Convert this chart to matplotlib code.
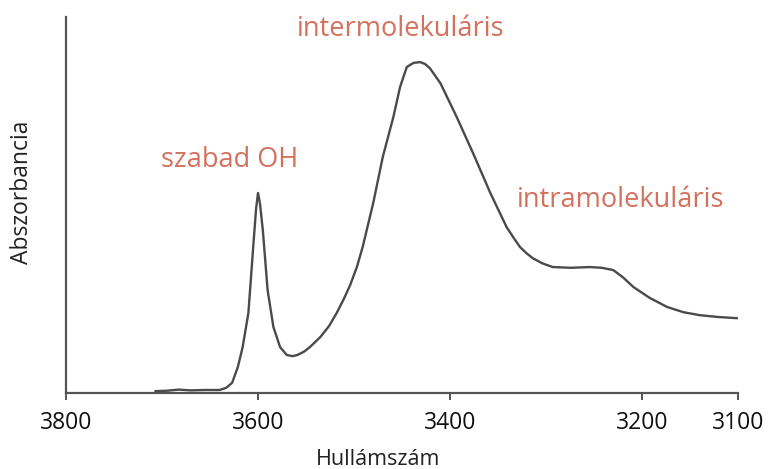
import matplotlib
matplotlib.use("Agg")
import matplotlib.pyplot as plt

# Spectrum: wavenumber (cm^-1) and relative absorbance (0-100)
wavenumber = [3707, 3695, 3683, 3670, 3655, 3640, 3633, 3627, 3621, 3616, 3610, 3605,
              3602, 3600, 3598, 3595, 3590, 3584, 3577, 3570, 3564, 3559, 3552, 3546,
              3535, 3526, 3518, 3511, 3504, 3497, 3491, 3480, 3470, 3459, 3452, 3445,
              3438, 3431, 3426, 3421, 3410, 3393, 3376, 3358, 3341, 3333, 3327, 3320,
              3314, 3304, 3293, 3274, 3254, 3242, 3230, 3220, 3209, 3192, 3174, 3157,
              3140, 3120, 3101]
absorbance = [0.5, 0.6, 0.9, 0.7, 0.8, 0.8, 1.4, 2.7, 6.9, 12.2, 21.3, 38.8,
              49.0, 53.2, 50.5, 43.4, 27.4, 17.6, 12.2, 10.1, 9.8, 10.1, 11.0, 12.2,
              14.9, 17.8, 21.3, 24.8, 28.7, 33.5, 38.8, 50.5, 62.8, 73.4, 81.4, 86.7,
              87.8, 88.0, 87.5, 86.4, 82.4, 73.4, 63.8, 53.2, 44.1, 41.0, 38.8, 37.1,
              35.9, 34.5, 33.5, 33.3, 33.5, 33.3, 32.7, 30.8, 28.2, 25.3, 22.9, 21.5,
              20.7, 20.2, 19.9]

x_ticks = [3800, 3600, 3400, 3200, 3100]
annotations = ["szabad OH", "intermolekuláris", "intramolekuláris"]
annot_x = [3630, 3451, 3222]
annot_y = [62.0, 96.8, 51.3]

FONT = ["Open Sans", "DejaVu Sans"]
TEXT_COLOR = "#d4705c"
LINE_COLOR = "#4a4a4a"

fig = plt.figure(figsize=(7.76, 4.69), dpi=100)
ax = fig.add_axes([66 / 776, 1 - 393 / 469, (738 - 66) / 776, (393 - 17) / 469])

ax.plot(wavenumber, absorbance, color=LINE_COLOR, lw=1.7,
        solid_joinstyle="round", solid_capstyle="round")

ax.set_xlim(3800, 3100)
ax.set_ylim(0, 100)

for side in ["top", "right"]:
    ax.spines[side].set_visible(False)
for side in ["left", "bottom"]:
    ax.spines[side].set_color("#555555")
    ax.spines[side].set_linewidth(1.6)

ax.set_yticks([])
ax.set_xticks(x_ticks)
ax.set_xticklabels([str(t) for t in x_ticks], fontfamily=FONT, fontsize=16.5, color="#111111")
ax.tick_params(axis="x", direction="out", length=5, width=1.4, color="#555555", pad=8)

ax.set_xlabel("Hullámszám", fontfamily=FONT, fontsize=15.5, color="#222222")
ax.xaxis.set_label_coords((378 - 66) / 672, -(459 - 393) / 376)
ax.xaxis.label.set_va("center")
ax.set_ylabel("Abszorbancia", fontfamily=FONT, fontsize=16.5, color="#222222")
ax.yaxis.set_label_coords(-(66 - 22) / 672, (393 - 192) / 376)
ax.yaxis.label.set_va("center")

for txt, xv, yv in zip(annotations, annot_x, annot_y):
    ax.text(xv, yv, txt, fontfamily=FONT, fontsize=19.5, color=TEXT_COLOR,
            ha="center", va="center")

fig.savefig("out.png", dpi=100)
